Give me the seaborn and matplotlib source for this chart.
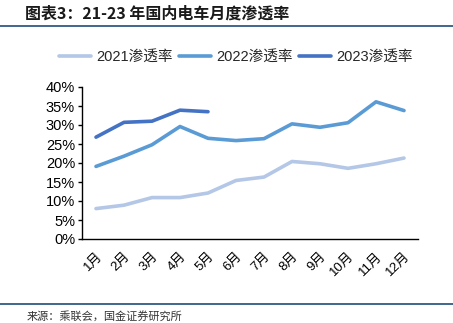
import matplotlib
matplotlib.use("Agg")
import matplotlib.pyplot as plt
import seaborn as sns
import pandas as pd
from matplotlib.ticker import PercentFormatter
from matplotlib.lines import Line2D

months = ["1月", "2月", "3月", "4月", "5月", "6月", "7月", "8月", "9月", "10月", "11月", "12月"]
rate_2021 = [8.0, 8.9, 10.9, 10.9, 12.1, 15.4, 16.3, 20.4, 19.8, 18.6, 19.8, 21.3]
rate_2022 = [19.1, 21.8, 24.8, 29.6, 26.5, 25.9, 26.4, 30.3, 29.4, 30.6, 36.1, 33.8]
rate_2023 = [26.8, 30.7, 31.0, 33.9, 33.5]
series_names = ["2021渗透率", "2022渗透率", "2023渗透率"]
colors = ["#B4C7E7", "#5B9BD5", "#4472C4"]

rows = []
for name, vals in zip(series_names, [rate_2021, rate_2022, rate_2023]):
    for m, v in zip(months, vals):
        rows.append({"month": m, "rate": v, "series": name})
df = pd.DataFrame(rows)

sns.set_theme(style="white")
plt.rcParams["font.family"] = ["Liberation Sans", "Noto Sans CJK SC", "DejaVu Sans"]

fig = plt.figure(figsize=(4.53, 3.23), dpi=100)
ax = fig.add_axes([82/453, 1-239/323, 336/453, 152/323])

sns.lineplot(data=df, x="month", y="rate", hue="series", palette=colors,
             hue_order=series_names, sort=False, linewidth=2.6, ax=ax, legend=False)

ax.set_xlim(-0.5, 11.5)
ax.set_ylim(0, 40)
ax.set_yticks(range(0, 41, 5))
ax.yaxis.set_major_formatter(PercentFormatter(decimals=0))
ax.set_xlabel("")
ax.set_ylabel("")
for s in ["top", "right"]:
    ax.spines[s].set_visible(False)
for s in ["left", "bottom"]:
    ax.spines[s].set_color("black")
    ax.spines[s].set_linewidth(1.0)
ax.tick_params(axis="y", left=True, length=3, width=1, color="black", labelsize=10.5, pad=2, labelcolor="black")
ax.tick_params(axis="x", bottom=False, labelsize=9.5, pad=2, labelcolor="black")
ax.set_xticks(range(len(months)))
ax.set_xticklabels(months, rotation=45, ha="right", rotation_mode="anchor")

handles = [Line2D([0], [0], color=c, lw=2.6) for c in colors]
fig.legend(handles, series_names, loc="center", bbox_to_anchor=(236/453, 1-57/323),
           ncol=3, frameon=False, fontsize=10.5, handlelength=2.2, columnspacing=0.45,
           handletextpad=0.35)

# title and decorations
fig.text(25/453, 1-14/323, "图表3：21-23 年国内电车月度渗透率", fontsize=11.5, fontweight="bold",
         style="italic", va="center", ha="left", color="#1a1a1a",
         family=["Noto Sans CJK SC", "DejaVu Sans"])
fig.add_artist(Line2D([0, 1], [1-26/323, 1-26/323], color="#1F4E79", lw=1.2, transform=fig.transFigure))
fig.add_artist(Line2D([0, 1], [1-304/323, 1-304/323], color="#1F4E79", lw=1.2, transform=fig.transFigure))
fig.text(27/453, 1-316/323, "来源：乘联会，国金证券研究所", fontsize=8, va="center", ha="left",
         color="#333333", family=["Noto Sans CJK SC", "DejaVu Sans"])

fig.savefig("out.png", dpi=100)
